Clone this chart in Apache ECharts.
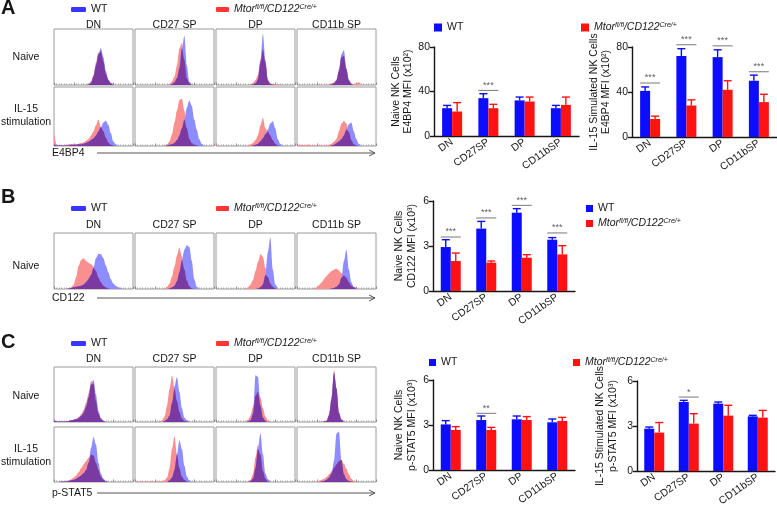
<!DOCTYPE html>
<html><head><meta charset="utf-8">
<script src="https://cdn.jsdelivr.net/npm/echarts@6/dist/echarts.min.js"></script>
<style>html,body{margin:0;padding:0;background:#fff}#c{width:777px;height:506px}</style>
</head><body><div id="c"></div>
<script>
// ---------------- DATA ----------------
const histColumns = ['DN', 'CD27 SP', 'DP', 'CD11b SP'];
const barCategories = ['DN', 'CD27SP', 'DP', 'CD11bSP'];
const groupNames = ['WT', 'KO'];

// Flow histograms (% of mode), sampled on a 33-bin fluorescence grid
// Panel A - E4BP4, naive
const hA_N_DN_WT = [0,0,0,0,0, 0,0,0,0,0, 0,0,0,0, 1,4,15,35,55,66,50,25,10,3,1];
const hA_N_DN_KO = [0,0,0,0,0, 0,0,0,0,0, 0,0,0,0, 2,6,18,40,58,60,42,20,9,4,1];
const hA_N_27_WT = [0,0,0,0,0, 0,0,0,0,0, 0,0,0,0,0, 2,5,12,30,65,88,35,6,1];
const hA_N_27_KO = [0,0,0,0,0, 0,0,0,0,0, 0,0,0,0, 2,6,15,35,65,75,45,12,3,1];
const hA_N_DP_WT = [0,0,0,0,0, 0,0,0,0,0, 0,0,0,0,0, 1,3,10,40,91,45,8,2,1];
const hA_N_DP_KO = [0,0,0,0,0, 0,0,0,0,0, 0,0,0,0, 1,4,9,18,45,64,40,10,3,1,1,2,1];
const hA_N_11_WT = [0,0,0,0,0, 0,0,0,0,0, 0,0,0,0, 1,3,8,25,55,62,30,8,2];
const hA_N_11_KO = [0,0,0,0,0, 0,0,0,0,0, 0,0,0, 1,3,5,10,28,50,52,28,10,3,1,3,5,2];
// Panel A - E4BP4, IL-15 stimulation
const hA_S_DN_WT = [3,1,1,1,1,1,1,2,2,2,3,3,4,5,7,10,13,18,25,32,40,43,36,22,8,3,1];
const hA_S_DN_KO = [25,3,1,1,1,2,3,3,3,3,4,5,6,9,12,18,25,35,45,32,25,14,6,2,1];
const hA_S_27_WT = [0,0,0,0,0, 0,0,0,0,0, 0,0,0, 1,2,3,5,10,18,30,45,65,77,68,45,28,12,4,1];
const hA_S_27_KO = [0,0,0,0,0, 0,0,0,0,0, 0,0, 1,3,8,20,40,60,78,80,60,30,12,5,2,1];
const hA_S_DP_WT = [0,0,0,0,0, 0,0,0,0,0, 0,0,0,0,0, 1,2,4,8,13,20,28,38,42,30,12,4,1];
const hA_S_DP_KO = [3, 0,0,0,0,0, 0,0,0,0,0, 0,0, 1,3,5,10,18,35,48,30,24,18,10,4,1];
const hA_S_11_WT = [0,0,0,0,0, 0,0,0,0,0, 0,0,0,0, 1,2,5,8,12,18,28,37,40,25,12,4,1];
const hA_S_11_KO = [0,2,2,1,2,2,1,1,1,1,1,1,1,2,4,7,12,25,38,43,38,24,10,3,1];
// Panel B - CD122, naive
const hB_N_DN_WT = [0,0,0,0,0,0, 1,2,3,4,5,6,8,12,18,25,38,55,63,62,55,42,30,18,10,6,3,2,1];
const hB_N_DN_KO = [0,0,0,0,0,0, 1,3,8,22,42,52,55,50,47,44,40,32,20,12,6,3,1];
const hB_N_27_WT = [0,0,0,0,0, 0,0,0,0,0, 0,0,0,0, 1,3,6,14,30,52,70,78,75,50,18,4,1];
const hB_N_27_KO = [0,0,0,0,0, 0,0,0,0,0, 0,0, 1,4,10,22,40,60,74,58,35,15,5,1];
const hB_N_DP_WT = [0,0,0,0,0, 0,0,0,0,0, 0,0,0,0,0, 0,0, 1,3,8,25,65,92,35,8,2];
const hB_N_DP_KO = [0,0,0,0,0, 0,0,0,0,0, 0,0, 1,3,8,16,32,48,62,58,38,22,10,4,1];
const hB_N_11_WT = [0,0,0,0,0, 0,0,0,0,0, 0,0,0,0, 1,2,4,8,20,50,70,35,12,4,1];
const hB_N_11_KO = [0,0,0,0,0, 0,0, 1,3,7,12,18,23,28,32,35,36,33,28,24,20,12,6,3,1];
// Panel C - p-STAT5, naive
const hC_N_DN_WT = [3,1,1,1,1,1,2,3,4,5,7,11,17,28,45,68,77,50,20,7,2,1];
const hC_N_DN_KO = [5,1,1,1,1,2,2,3,4,6,9,14,22,35,52,74,70,38,15,6,2,1];
const hC_N_27_WT = [0,0,0,0,0, 0,0,0,0,0, 0,0, 2,5,12,35,65,82,55,25,8,3,1];
const hC_N_27_KO = [0,0,0,0,0, 0,0,0,0,0, 1,3,10,30,60,84,60,38,18,6,2,1];
const hC_N_DP_WT = [0,0,0,0,0, 0,0,0,0,0, 0,0,0, 1,3,15,85,82,30,8,2];
const hC_N_DP_KO = [0,0,0,0,0, 0,0,0,0,0, 0,0, 1,4,12,28,48,55,45,25,10,3,1];
const hC_N_11_WT = [0,0,0,0,0, 0,0,0,0,0, 0, 1,2,12,42,90,62,16,4,1];
const hC_N_11_KO = [0,0,0,0,0, 0,0,0,0,0, 0, 1,3,15,45,94,60,18,5,1];
// Panel C - p-STAT5, IL-15 stimulation
const hC_S_DN_WT = [0,0,0, 1,1,1,2,3,4,6,9,12,16,22,35,62,82,68,35,15,6,2,1];
const hC_S_DN_KO = [0,0,0, 1,1,2,3,5,8,12,18,25,32,38,44,50,48,35,22,10,4,1];
const hC_S_27_WT = [0,0,0,0,0, 0,0,0,0,0, 0,0,0,0, 3,8,22,50,76,60,30,10,3,1];
const hC_S_27_KO = [2,1,1,1,1,1,1,1,1,1,1,2,3,8,25,60,83,50,25,10,4,1];
const hC_S_DP_WT = [0,0,0,0,0, 0,0,0,0,0, 0,0,0,0, 2,6,25,60,88,50,15,5,1];
const hC_S_DP_KO = [0,0,0,0,0, 0,0,0,0,0, 0,0,0, 1,4,15,45,68,50,20,6,1];
const hC_S_11_WT = [0,0,0,0,0, 0,0,0,0,0, 1,2,4,8,16,38,88,92,40,14,5,2,1];
const hC_S_11_KO = [0,0,0,0,0, 0,0,0, 1,2,4,6,9,14,20,26,32,38,40,33,24,14,6,2,1];

// Bar charts (mean, SEM)
const barA1_WT = [25, 34, 32, 25],  barA1_WT_err = [2.5, 4, 3, 2.5];
const barA1_KO = [22, 25, 31, 28],  barA1_KO_err = [8, 3.5, 4, 7];
const sigA1 = ['', '***', '', ''],   sigA1_y = [0, 41, 0, 0];

const barA2_WT = [41, 72, 71, 50],  barA2_WT_err = [3.5, 6.5, 6.5, 5];
const barA2_KO = [16, 28, 42, 31],  barA2_KO_err = [2.5, 5, 8, 7];
const sigA2 = ['***', '***', '***', '***'], sigA2_y = [48, 82, 81, 58];

const barB_WT = [2.93, 4.16, 5.22, 3.42], barB_WT_err = [0.49, 0.48, 0.27, 0.14];
const barB_KO = [2.0, 1.89, 2.22, 2.44],  barB_KO_err = [0.53, 0.11, 0.2, 0.58];
const sigB = ['***', '***', '***', '***'], sigB_y = [3.6, 4.87, 5.71, 3.87];

const barC1_WT = [3.04, 3.33, 3.38, 3.18], barC1_WT_err = [0.25, 0.27, 0.22, 0.22];
const barC1_KO = [2.67, 2.67, 3.33, 3.27], barC1_KO_err = [0.22, 0.17, 0.23, 0.24];
const sigC1 = ['', '**', '', ''], sigC1_y = [0, 3.78, 0, 0];

const barC2_WT = [2.82, 4.6, 4.49, 3.64], barC2_WT_err = [0.11, 0.11, 0.11, 0.07];
const barC2_KO = [2.56, 3.16, 3.69, 3.56], barC2_KO_err = [0.67, 0.66, 0.69, 0.48];
const sigC2 = ['', '*', '', ''], sigC2_y = [0, 4.93, 0, 0];

// ---------------- STYLE / LAYOUT ----------------
const FONT = '"Liberation Sans", Arial, Helvetica, sans-serif';
const TXT = '#161616';
const BLUE = '#0c0cff', RED = '#ff1212';
const H_BLUE = '#8d8dff', H_RED = '#fa8f8f', H_PURPLE = '#7b3aa2';
const LEG_BLUE = '#3636ff', LEG_RED = '#ff3434';

const colLeft = [54, 135, 216, 297], colW = 79;
const histRows = [
  {top: 29, h: 56, curves: [[hA_N_DN_WT,hA_N_DN_KO],[hA_N_27_WT,hA_N_27_KO],[hA_N_DP_WT,hA_N_DP_KO],[hA_N_11_WT,hA_N_11_KO]]},
  {top: 87, h: 59, curves: [[hA_S_DN_WT,hA_S_DN_KO],[hA_S_27_WT,hA_S_27_KO],[hA_S_DP_WT,hA_S_DP_KO],[hA_S_11_WT,hA_S_11_KO]]},
  {top: 233, h: 56, curves: [[hB_N_DN_WT,hB_N_DN_KO],[hB_N_27_WT,hB_N_27_KO],[hB_N_DP_WT,hB_N_DP_KO],[hB_N_11_WT,hB_N_11_KO]]},
  {top: 367, h: 55, curves: [[hC_N_DN_WT,hC_N_DN_KO],[hC_N_27_WT,hC_N_27_KO],[hC_N_DP_WT,hC_N_DP_KO],[hC_N_11_WT,hC_N_11_KO]]},
  {top: 427, h: 55, curves: [[hC_S_DN_WT,hC_S_DN_KO],[hC_S_27_WT,hC_S_27_KO],[hC_S_DP_WT,hC_S_DP_KO],[hC_S_11_WT,hC_S_11_KO]]}
];

const barPanels = [
  {left: 434, top: 47, width: 145, height: 89, max: 80, interval: 40, gap: 16,
   name: 'Naive NK Cells\nE4BP4 MFI (x10²)', wt: barA1_WT, wtE: barA1_WT_err, ko: barA1_KO, koE: barA1_KO_err, sig: sigA1, sigY: sigA1_y},
  {left: 632, top: 47, width: 145, height: 90, max: 80, interval: 40, gap: 18,
   name: 'IL-15 Simulated NK Cells\nE4BP4 MFI (x10²)', wt: barA2_WT, wtE: barA2_WT_err, ko: barA2_KO, koE: barA2_KO_err, sig: sigA2, sigY: sigA2_y},
  {left: 433, top: 201, width: 142, height: 90, max: 6, interval: 3, gap: 15,
   name: 'Naive NK Cells\nCD122 MFI (x10³)', wt: barB_WT, wtE: barB_WT_err, ko: barB_KO, koE: barB_KO_err, sig: sigB, sigY: sigB_y},
  {left: 433, top: 380, width: 142, height: 90, max: 6, interval: 3, gap: 15,
   name: 'Naive NK Cells\np-STAT5 MFI (x10³)', wt: barC1_WT, wtE: barC1_WT_err, ko: barC1_KO, koE: barC1_KO_err, sig: sigC1, sigY: sigC1_y},
  {left: 637, top: 381, width: 138, height: 90, max: 6, interval: 3, gap: 18,
   name: 'IL-15 Stimulated NK Cells\np-STAT5 MFI (x10³)', wt: barC2_WT, wtE: barC2_WT_err, ko: barC2_KO, koE: barC2_KO_err, sig: sigC2, sigY: sigC2_y}
];

// ---------------- BUILD ----------------
const grid = [], xAxis = [], yAxis = [], series = [];

function toXY(arr) { return arr.map((v, i) => [i, v]); }
function overlap(a, b) {
  const n = Math.max(a.length, b.length), r = [];
  for (let i = 0; i < n; i++) r.push([i, Math.min(a[i] || 0, b[i] || 0)]);
  return r;
}
function areaSeries(name, idx, data, color, z) {
  return {type: 'line', name, xAxisIndex: idx, yAxisIndex: idx, data, symbol: 'none', showSymbol: false,
    smooth: 0.3, smoothMonotone: 'x', silent: true, z, lineStyle: {width: 0, opacity: 0},
    areaStyle: {color, opacity: 1}, animation: false};
}

histRows.forEach(row => {
  row.curves.forEach((pair, c) => {
    const idx = grid.length;
    grid.push({left: colLeft[c], top: row.top, width: colW, height: row.h, show: true,
      borderColor: '#9a9a9a', borderWidth: 1, backgroundColor: 'transparent', containLabel: false, outerBoundsMode: 'none'});
    xAxis.push({type: 'value', gridIndex: idx, min: 0, max: 32, interval: 8,
      axisLine: {show: false}, axisLabel: {show: false}, splitLine: {show: false},
      axisTick: {show: true, inside: true, length: 2.5, lineStyle: {color: '#8a8a8a', width: 1}},
      minorTick: {show: true, splitNumber: 8, length: 1.5, lineStyle: {color: '#aaaaaa', width: 1}}});
    yAxis.push({type: 'value', gridIndex: idx, min: 0, max: 100, show: false, splitLine: {show: false}});
    series.push(areaSeries('KO', idx, toXY(pair[1]), H_RED, 2));
    series.push(areaSeries('WT', idx, toXY(pair[0]), H_BLUE, 3));
    series.push(areaSeries('overlap', idx, overlap(pair[0], pair[1]), H_PURPLE, 4));
  });
});

function errBar(dx, color) {
  return function (params, api) {
    const i = api.value(0), v = api.value(1), e = api.value(2);
    const a = api.coord([i, v]), b = api.coord([i, v + e]);
    const x = a[0] + dx;
    return {type: 'group', children: [
      {type: 'line', shape: {x1: x, y1: a[1], x2: x, y2: b[1]}, style: {stroke: color, lineWidth: 1.4}},
      {type: 'line', shape: {x1: x - 4, y1: b[1], x2: x + 4, y2: b[1]}, style: {stroke: color, lineWidth: 1.4}}
    ]};
  };
}

barPanels.forEach(p => {
  const idx = grid.length;
  grid.push({left: p.left, top: p.top, width: p.width, height: p.height, containLabel: false, outerBoundsMode: 'none'});
  xAxis.push({type: 'category', gridIndex: idx, data: barCategories,
    axisLine: {show: true, lineStyle: {color: TXT, width: 1.4}}, axisTick: {show: false},
    axisLabel: {rotate: 35, interval: 0, margin: 5, fontSize: 10.5, color: TXT, fontFamily: FONT},
    splitLine: {show: false}});
  yAxis.push({type: 'value', gridIndex: idx, min: 0, max: p.max, interval: p.interval,
    axisLine: {show: true, lineStyle: {color: TXT, width: 1.4}},
    axisTick: {show: true, length: 4, lineStyle: {color: TXT, width: 1.4}},
    axisLabel: {fontSize: 10.5, color: TXT, margin: 4, fontFamily: FONT},
    splitLine: {show: false},
    name: p.name, nameLocation: 'middle', nameRotate: 90, nameGap: p.gap,
    nameTextStyle: {fontSize: 10.5, lineHeight: 12.5, color: TXT, fontFamily: FONT}});
  series.push({type: 'bar', name: 'WT', xAxisIndex: idx, yAxisIndex: idx, data: p.wt, barWidth: 10, barGap: '0%',
    itemStyle: {color: BLUE}, silent: true, animation: false});
  series.push({type: 'bar', name: 'KO', xAxisIndex: idx, yAxisIndex: idx, data: p.ko, barWidth: 10, barGap: '0%',
    itemStyle: {color: RED}, silent: true, animation: false});
  series.push({type: 'custom', name: 'WT err', xAxisIndex: idx, yAxisIndex: idx, silent: true, animation: false, z: 3, clip: false,
    data: p.wt.map((v, i) => [i, v, p.wtE[i]]), encode: {x: 0, y: 1}, renderItem: errBar(-5, BLUE)});
  series.push({type: 'custom', name: 'KO err', xAxisIndex: idx, yAxisIndex: idx, silent: true, animation: false, z: 3, clip: false,
    data: p.ko.map((v, i) => [i, v, p.koE[i]]), encode: {x: 0, y: 1}, renderItem: errBar(5, RED)});
  series.push({type: 'scatter', name: 'sig', xAxisIndex: idx, yAxisIndex: idx, silent: true, animation: false, z: 5, clip: false,
    symbol: 'rect', symbolSize: [20, 1], itemStyle: {color: '#555'},
    label: {show: true, position: 'top', distance: 0, fontSize: 9, color: '#333', fontFamily: FONT, formatter: '{b}'},
    data: p.sig.map((t, i) => t ? {name: t, value: [i, p.sigY[i]]} : null).filter(Boolean)});
});

// Legends
const legRich = {
  i: {fontStyle: 'italic', fontSize: 10.5, color: TXT, fontFamily: FONT},
  s: {fontStyle: 'italic', fontSize: 7, color: TXT, fontFamily: FONT, verticalAlign: 'top'}
};
function legFmt(n) { return n === 'WT' ? 'WT' : '{i|Mtor}{s|fl/fl}{i|/CD122}{s|Cre/+}'; }
function legend(left, top, names, colors, icon, w, h, orient) {
  return {left, top, orient: orient || 'horizontal', selectedMode: false, itemGap: 4, padding: 0,
    itemWidth: w, itemHeight: h, formatter: legFmt,
    textStyle: {fontSize: 10.5, color: TXT, fontFamily: FONT, rich: legRich},
    data: names.map((n, k) => ({name: n, icon, itemStyle: {color: colors[k], borderWidth: 0}}))};
}
const legends = [
  legend(71, 4, ['WT'], [LEG_BLUE], 'roundRect', 15, 5),
  legend(216, 4, ['KO'], [LEG_RED], 'roundRect', 13, 5),
  legend(71, 203, ['WT'], [LEG_BLUE], 'roundRect', 15, 5),
  legend(216, 203, ['KO'], [LEG_RED], 'roundRect', 13, 5),
  legend(71, 338, ['WT'], [LEG_BLUE], 'roundRect', 15, 5),
  legend(216, 338, ['KO'], [LEG_RED], 'roundRect', 13, 5),
  legend(434, 22, ['WT'], [BLUE], 'rect', 8, 8),
  legend(581, 22, ['KO'], [RED], 'rect', 8, 8),
  legend(586, 203, ['WT', 'KO'], [BLUE, RED], 'rect', 7, 7, 'vertical'),
  legend(429, 357, ['WT'], [BLUE], 'rect', 7, 7),
  legend(573, 357, ['KO'], [RED], 'rect', 7, 7)
];

// Text annotations
const g = [];
function txt(x, y, text, opt) {
  opt = opt || {};
  g.push({type: 'text', x, y, silent: true, style: {text, fill: opt.fill || TXT,
    font: (opt.weight || 'normal') + ' ' + (opt.size || 10.5) + 'px ' + FONT,
    textAlign: opt.align || 'center', textVerticalAlign: 'middle', lineHeight: opt.lh || 13}});
}
txt(1, 8, 'A', {size: 20, weight: 'bold', align: 'left'});
txt(1, 197, 'B', {size: 20, weight: 'bold', align: 'left'});
txt(1, 342, 'C', {size: 20, weight: 'bold', align: 'left'});
[25, 225, 359].forEach(y => histColumns.forEach((c, k) => txt(colLeft[k] + colW / 2, y, c)));
txt(26, 57, 'Naive');
txt(26, 116, 'IL-15\nstimulation');
txt(26, 266, 'Naive');
txt(26, 396, 'Naive');
txt(26, 456, 'IL-15\nstimulation');
[[153, 'E4BP4'], [298, 'CD122'], [493, 'p-STAT5']].forEach(([y, t]) => {
  txt(52, y, t, {align: 'left'});
  g.push({type: 'line', silent: true, shape: {x1: 97, y1: y, x2: 375, y2: y}, style: {stroke: '#555', lineWidth: 1}});
  g.push({type: 'polyline', silent: true, shape: {points: [[369, y - 3], [375, y], [369, y + 3]]}, style: {stroke: '#555', lineWidth: 1, fill: null}});
});

const chart = echarts.init(document.getElementById('c'), null, {renderer: 'canvas', width: 777, height: 506});
chart.setOption({
  animation: false,
  backgroundColor: '#ffffff',
  textStyle: {fontFamily: FONT},
  grid, xAxis, yAxis, series,
  legend: legends,
  graphic: {elements: g}
});
</script>
</body></html>
